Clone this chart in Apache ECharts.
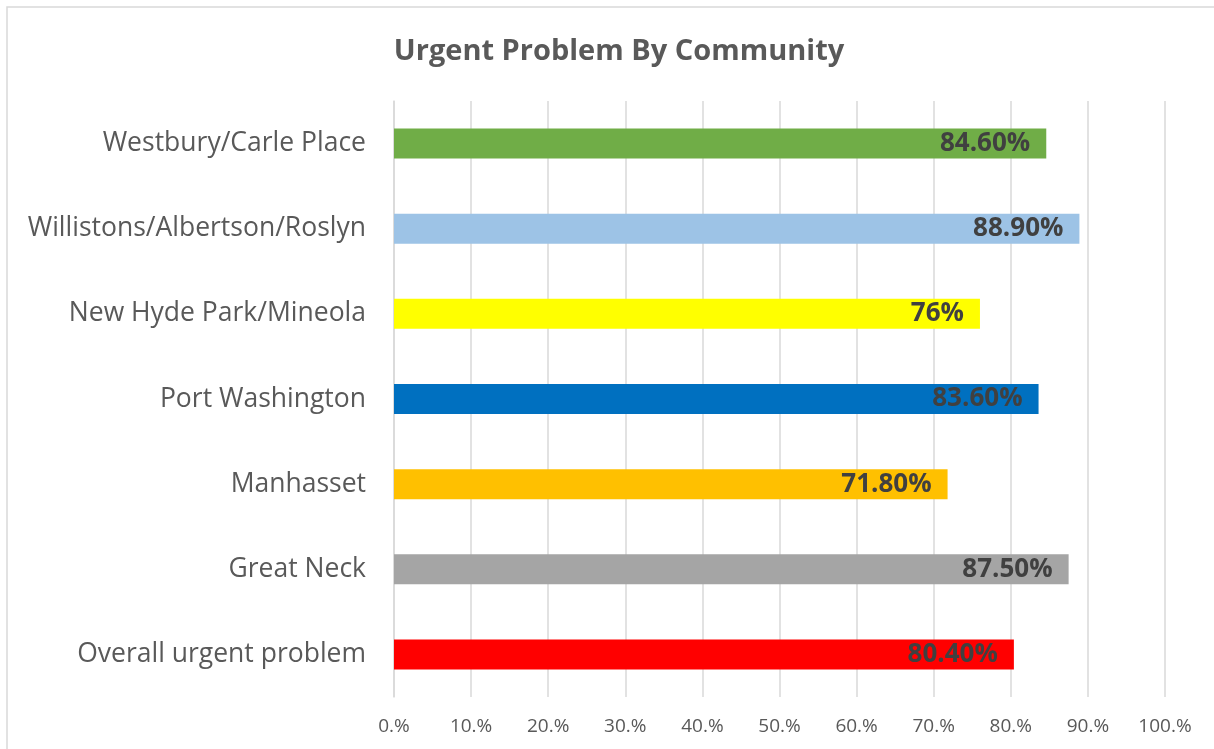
<!DOCTYPE html>
<html lang="en">
  <head>
    <meta charset="UTF-8" />
    <title>Urgent Problem By Community</title>
    <style>
      * {
        margin: 0;
        padding: 0;
      }
      html,
      body {
        width: 100%;
        height: 100%;
        background: #fff;
      }
      #chart {
        width: 1214px;
        height: 749px;
      }
    </style>
    <script src="https://cdn.jsdelivr.net/npm/echarts@6/dist/echarts.min.js"></script>
  </head>
  <body>
    <div id="chart"></div>
    <script>
      // data, top to bottom
      var communities = [
        "Westbury/Carle Place",
        "Willistons/Albertson/Roslyn",
        "New Hyde Park/Mineola",
        "Port Washington",
        "Manhasset",
        "Great Neck",
        "Overall urgent problem",
      ];
      var percents = [84.6, 88.9, 76, 83.6, 71.8, 87.5, 80.4];
      var labelTexts = ["84.60%", "88.90%", "76%", "83.60%", "71.80%", "87.50%", "80.40%"];
      var barColors = ["#70AD47", "#9DC3E6", "#FFFF00", "#0070C0", "#FFC000", "#A5A5A5", "#FF0000"];
      var ticks = [0, 10, 20, 30, 40, 50, 60, 70, 80, 90, 100];

      var font = "'Open Sans', Lato, sans-serif";

      var option = {
        backgroundColor: "#fff",
        animation: false,
        title: {
          text: "Urgent Problem By Community",
          left: 614,
          textAlign: "center",
          top: 32,
          textStyle: {
            color: "#595959",
            fontSize: 29,
            fontWeight: "bold",
            fontFamily: font,
          },
        },
        graphic: [
          {
            // chart border
            type: "rect",
            shape: { x: 7, y: 7, width: 1220, height: 760 },
            style: { fill: "none", stroke: "#d9d9d9", lineWidth: 1.5 },
            silent: true,
          },
        ],
        grid: {
          left: 394,
          right: 49,
          top: 101,
          bottom: 52,
        },
        xAxis: {
          type: "value",
          min: ticks[0],
          max: ticks[ticks.length - 1],
          interval: 10,
          axisLine: { show: false },
          axisTick: { show: false },
          splitLine: { lineStyle: { color: "#d9d9d9", width: 1.5 } },
          axisLabel: {
            color: "#595959",
            fontSize: 19,
            fontFamily: font,
            margin: 20,
            formatter: function (v) {
              return v + ".%";
            },
          },
        },
        yAxis: {
          type: "category",
          inverse: true,
          data: communities,
          axisLine: { show: true, lineStyle: { color: "#d9d9d9", width: 1.5 } },
          axisTick: { show: false },
          axisLabel: {
            color: "#595959",
            fontSize: 26.5,
            fontFamily: font,
            margin: 28,
          },
        },
        series: [
          {
            type: "bar",
            barWidth: 30,
            data: percents.map(function (v, i) {
              return {
                value: v,
                itemStyle: { color: barColors[i] },
                label: { formatter: labelTexts[i] },
              };
            }),
            label: {
              show: true,
              position: "insideRight",
              distance: 16,
              color: "#404040",
              fontSize: 26,
              fontWeight: "bold",
              fontFamily: font,
            },
          },
        ],
      };

      var myChart = echarts.init(document.getElementById("chart"));
      myChart.setOption(option);
    </script>
  </body>
</html>
